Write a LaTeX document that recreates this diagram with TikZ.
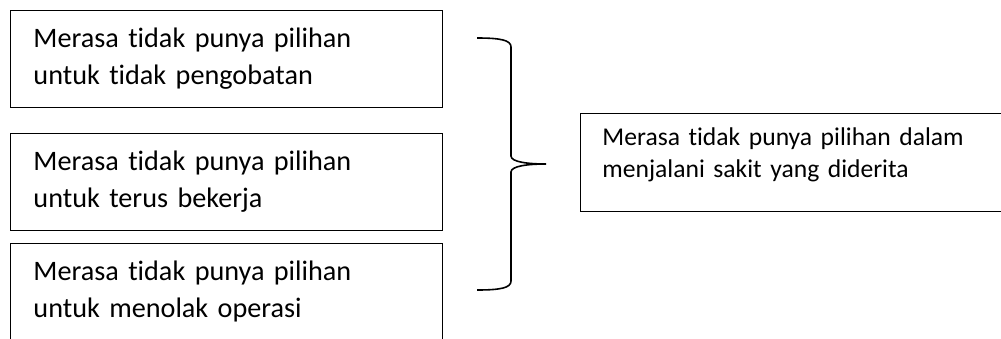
\documentclass[tikz,border=0pt]{standalone}
\usepackage{fontspec}
\setmainfont{Carlito}[Ligatures=NoCommon]
\begin{document}
\begin{tikzpicture}[x=1pt,y=-1pt,
  leftbox/.style={draw=black, line width=0.9pt, anchor=north west,
    align=left, text width=386pt, inner xsep=23pt, inner ysep=0pt,
    font=\fontsize{28.2}{37}\selectfont, text height=36.7pt, text depth=60.3pt},
  rightbox/.style={draw=black, line width=0.9pt, anchor=north west,
    align=left, text width=400pt, inner xsep=22pt, inner ysep=0pt,
    font=\fontsize{25.6}{32}\selectfont, text height=32pt, text depth=66pt},
  brace/.style={draw=black, line width=1.6pt}]
\clip (0,0) rectangle (1001,338);
\fill[white] (0,0) rectangle (1001,338);

% three reasons on the left
\node[leftbox] (a) at (10,10) {Merasa tidak punya pilihan\\untuk tidak pengobatan};
\node[leftbox] (b) at (10,133) {Merasa tidak punya pilihan\\untuk terus bekerja};
\node[leftbox, text depth=140pt] (c) at (10,243) {Merasa tidak punya pilihan\\untuk menolak operasi};

% summary on the right
\node[rightbox] (r) at (580,113) {Merasa tidak punya pilihan dalam\\menjalani sakit yang diderita};

% curly brace gathering the three boxes
\coordinate (btop) at (477,38);
\coordinate (bbot) at (477,290);
\coordinate (btip) at (546,164);
\draw[brace] (btop) .. controls (500,38) and (511,40) .. (511,47)
  -- (511,156) .. controls (511,162) and (528,164) .. (btip)
  .. controls (528,164) and (511,166) .. (511,172)
  -- (511,281) .. controls (511,288) and (500,290) .. (bbot);
\end{tikzpicture}
\end{document}
